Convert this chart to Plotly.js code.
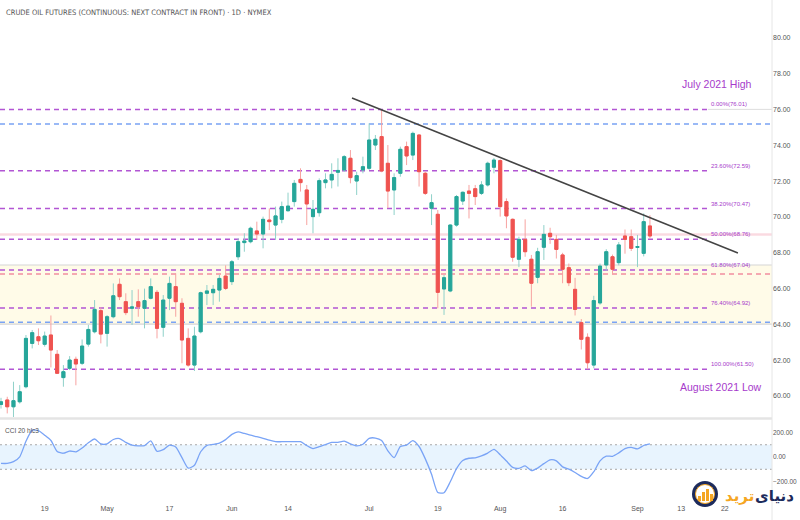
<!DOCTYPE html>
<html>
<head>
<meta charset="utf-8">
<script src="https://cdn.plot.ly/plotly-3.0.1.min.js"></script>
<style>html,body{margin:0;padding:0;background:#fff;}#chart{width:800px;height:520px;}</style>
</head>
<body>
<div id="chart"></div>
<script>
// ---------- DATA ----------
const dates = [
 '2021-04-08','2021-04-09','2021-04-12','2021-04-13','2021-04-14','2021-04-15','2021-04-16','2021-04-19','2021-04-20','2021-04-21','2021-04-22','2021-04-23','2021-04-26','2021-04-27','2021-04-28','2021-04-29','2021-04-30',
 '2021-05-03','2021-05-04','2021-05-05','2021-05-06','2021-05-07','2021-05-10','2021-05-11','2021-05-12','2021-05-13','2021-05-14','2021-05-17','2021-05-18','2021-05-19','2021-05-20','2021-05-21','2021-05-24','2021-05-25','2021-05-26','2021-05-27','2021-05-28',
 '2021-06-01','2021-06-02','2021-06-03','2021-06-04','2021-06-07','2021-06-08','2021-06-09','2021-06-10','2021-06-11','2021-06-14','2021-06-15','2021-06-16','2021-06-17','2021-06-18','2021-06-21','2021-06-22','2021-06-23','2021-06-24','2021-06-25','2021-06-28','2021-06-29','2021-06-30',
 '2021-07-01','2021-07-02','2021-07-06','2021-07-07','2021-07-08','2021-07-09','2021-07-12','2021-07-13','2021-07-14','2021-07-15','2021-07-16','2021-07-19','2021-07-20','2021-07-21','2021-07-22','2021-07-23','2021-07-26','2021-07-27','2021-07-28','2021-07-29','2021-07-30',
 '2021-08-02','2021-08-03','2021-08-04','2021-08-05','2021-08-06','2021-08-09','2021-08-10','2021-08-11','2021-08-12','2021-08-13','2021-08-16','2021-08-17','2021-08-18','2021-08-19','2021-08-20','2021-08-23','2021-08-24','2021-08-25','2021-08-26','2021-08-27','2021-08-30','2021-08-31',
 '2021-09-01','2021-09-02','2021-09-03'
];
const futureDates = ['2021-09-07','2021-09-08','2021-09-09','2021-09-10','2021-09-13','2021-09-14','2021-09-15','2021-09-16','2021-09-17','2021-09-20','2021-09-21','2021-09-22'];

const openP = [59.53,59.78,59.40,59.68,60.52,62.94,63.31,62.89,63.41,62.33,61.03,61.55,62.05,61.83,62.90,63.59,64.77,
 63.50,64.43,66.24,65.27,64.90,65.27,64.90,65.46,65.79,63.84,65.46,66.11,65.18,63.22,61.73,63.59,65.74,65.77,65.92,66.70,
 66.39,67.78,68.57,68.62,69.22,69.05,69.83,69.55,69.87,70.35,70.86,72.10,71.51,70.02,70.24,71.92,72.07,72.50,72.63,73.28,72.01,72.63,
 72.72,74.02,74.49,73.00,71.51,72.44,73.93,73.46,74.58,72.44,70.49,70.15,65.98,65.87,69.55,70.89,71.45,71.58,71.32,71.79,72.78,
 73.15,70.86,69.87,67.64,68.75,67.64,66.63,68.31,69.09,68.75,67.88,67.17,65.96,64.10,63.28,61.73,65.20,67.32,67.78,67.45,68.94,68.90,
 68.30,67.97,69.50];
const highP = [59.90,59.96,60.80,60.61,63.41,63.69,63.78,63.60,64.50,62.57,61.73,62.23,62.20,63.16,63.97,65.36,64.95,
 64.52,66.29,66.57,65.74,65.92,65.96,66.00,66.57,65.92,65.64,66.67,66.85,65.46,63.78,63.87,65.83,66.20,66.20,66.76,67.30,
 67.60,68.81,69.09,69.46,69.74,70.02,70.48,70.58,70.86,71.36,72.07,72.72,71.79,70.95,72.16,72.44,73.00,73.28,73.46,73.74,72.53,73.37,
 75.23,74.58,76.01,74.02,72.44,73.93,74.21,74.77,74.62,72.53,71.27,70.39,66.76,69.59,71.23,71.42,71.79,71.79,72.00,73.09,73.30,
 73.22,71.04,69.92,68.90,69.87,67.88,68.28,69.55,69.40,69.00,68.00,67.40,66.60,64.30,63.50,65.60,67.40,68.20,67.90,68.60,69.30,69.30,
 69.00,70.20,70.10];
const lowP = [59.30,59.03,58.75,59.58,60.43,62.66,62.85,62.76,61.60,61.23,60.52,61.45,60.60,61.73,62.76,63.50,62.94,
 62.76,64.34,65.36,64.52,63.97,64.43,63.78,65.40,63.22,63.31,64.80,64.43,61.83,61.64,61.40,63.50,65.08,65.08,65.27,65.92,
 66.20,67.60,68.06,68.53,68.72,68.25,69.27,68.72,69.65,70.30,70.58,71.42,69.55,69.09,70.02,71.60,71.60,71.70,72.53,71.88,71.23,72.44,
 72.63,73.74,72.50,70.49,70.11,72.25,72.90,73.18,71.70,71.23,69.55,64.90,64.53,65.80,69.46,70.67,69.92,70.67,71.23,71.70,72.44,
 70.02,69.37,67.50,67.20,67.78,64.99,66.30,67.60,68.50,67.68,66.30,66.14,64.50,62.60,61.50,61.55,65.10,67.00,66.80,67.30,67.95,68.10,
 67.20,67.80,68.80];
const closeP = [59.68,59.40,59.74,60.24,63.22,63.54,63.09,63.35,62.57,61.27,61.36,62.01,61.79,62.79,63.72,64.84,63.46,
 64.43,65.60,65.55,64.66,64.98,64.99,65.33,66.11,63.78,65.36,66.29,65.27,63.13,61.73,63.35,65.77,65.87,65.96,66.57,66.01,
 67.50,68.62,68.66,69.37,69.05,69.87,69.74,70.06,70.58,70.61,71.88,71.92,70.73,70.43,72.03,72.07,72.38,72.60,73.37,72.20,72.31,72.81,
 74.30,74.34,72.57,71.45,72.20,73.78,73.41,74.67,72.53,71.32,70.80,65.79,66.61,69.55,71.14,71.38,71.32,71.14,71.79,73.00,73.18,
 70.58,70.06,67.75,68.75,68.06,66.30,68.06,69.03,68.90,68.19,67.08,66.33,64.84,63.17,61.86,65.33,67.26,68.06,67.08,68.44,68.75,68.25,
 68.35,69.74,68.94];

const cci20 = [-52,-52,-38,2,128,219,215,178,135,46,31,49,42,74,116,147,107,107,143,151,120,97,91,93,131,47,60,97,82,-5,-91,-67,43,95,103,114,142,185,205,192,178,166,153,137,125,125,125,125,125,94,69,84,102,119,120,129,107,91,104,152,155,134,50,-5,85,97,133,86,-15,-140,-290,-291,-202,-95,-29,-10,-6,10,32,62,19,-33,-85,-93,-73,-110,-90,-54,-23,-31,-80,-99,-126,-158,-175,-120,-31,7,6,34,68,79,66,94,107];

const tickDates = ['2021-04-19','2021-05-03','2021-05-17','2021-06-01','2021-06-14','2021-07-01','2021-07-19','2021-08-02','2021-08-16','2021-09-01','2021-09-13','2021-09-22'];
const tickLabels = ['19','May','17','Jun','14','Jul','19','Aug','16','Sep','13','22'];
const priceTicks = [60,62,64,66,68,70,72,74,76,78,80];
const cciTicks = [-200,0,200];

const fibPct = ['0.00%','23.60%','38.20%','50.00%','61.80%','76.40%','100.00%'];
const fibPrice = [76.01,72.59,70.47,68.76,67.04,64.92,61.50];
const blueLevels = [75.20,64.12];
const redLevels = [66.82];
const pinkLevels = [69.02];
const zoneLevels = [64.02,67.32];
const trendIdx = [56.25,118.1];
const trendPrice = [76.65,67.99];
const cciBand = [-100,100];

// ---------- BUILD ----------
const allDates = dates.concat(futureDates);
const xi = dates.map((d)=>allDates.indexOf(d));
const tickvals = tickDates.map(d=>allDates.indexOf(d));
const bodyTop = openP.map((o,k)=>Math.max(o,closeP[k]));
const bodyBot = openP.map((o,k)=>Math.min(o,closeP[k]));

const purple = '#b256d4';
const purpleText = '#a63acb';
const fontFam = 'Liberation Sans, Arial, sans-serif';

const traces = [
 {type:'candlestick', x:xi, open:openP, high:highP, low:lowP, close:closeP,
  xaxis:'x', yaxis:'y', whiskerwidth:0,
  increasing:{line:{color:'#8fd1c9',width:1}, fillcolor:'#8fd1c9'},
  decreasing:{line:{color:'#f7a3a1',width:1}, fillcolor:'#f7a3a1'},
  hoverinfo:'skip', showlegend:false},
 {type:'candlestick', x:xi, open:openP, high:bodyTop, low:bodyBot, close:closeP,
  xaxis:'x', yaxis:'y', whiskerwidth:0,
  increasing:{line:{color:'#26a69a',width:1}, fillcolor:'#26a69a'},
  decreasing:{line:{color:'#ef5350',width:1}, fillcolor:'#ef5350'},
  hoverinfo:'skip', showlegend:false},
 {type:'scatter', mode:'lines', x:xi, y:cci20, xaxis:'x', yaxis:'y2',
  line:{color:'#7aa4f6', width:1.3, shape:'spline', smoothing:0.6}, hoverinfo:'skip', showlegend:false}
];

const shapes = [];
shapes.push({type:'rect', xref:'paper', yref:'y', x0:0, x1:1, y0:zoneLevels[0], y1:zoneLevels[1],
  fillcolor:'#fffbe8', line:{width:0}, layer:'below'});
zoneLevels.forEach(v=>shapes.push({type:'line', xref:'paper', yref:'y', x0:0, x1:1, y0:v, y1:v,
  line:{color:'#d6d6d6', width:1.2}, layer:'below'}));
pinkLevels.forEach(v=>shapes.push({type:'line', xref:'paper', yref:'y', x0:0, x1:1, y0:v, y1:v,
  line:{color:'rgba(242,150,170,0.35)', width:2.5}, layer:'below'}));
blueLevels.forEach(v=>shapes.push({type:'line', xref:'paper', yref:'y', x0:0, x1:1, y0:v, y1:v,
  line:{color:'#7aa3f4', width:1.5, dash:'5px,4px'}, layer:'below'}));
redLevels.forEach(v=>shapes.push({type:'line', xref:'paper', yref:'y', x0:0, x1:1, y0:v, y1:v,
  line:{color:'#f28f9f', width:1.5, dash:'5px,4px'}, layer:'below'}));
fibPrice.forEach(v=>shapes.push({type:'line', xref:'paper', yref:'y', x0:0, x1:0.917, y0:v, y1:v,
  line:{color:purple, width:1.5, dash:'5px,4px'}, layer:'below'}));
shapes.push({type:'line', xref:'paper', yref:'y', x0:0.917, x1:1, y0:fibPrice[0], y1:fibPrice[0],
  line:{color:'#dddddd', width:1}, layer:'below'});
shapes.push({type:'line', xref:'x', yref:'y', x0:trendIdx[0], x1:trendIdx[1], y0:trendPrice[0], y1:trendPrice[1],
  line:{color:'#444444', width:1.5}});
shapes.push({type:'rect', xref:'paper', yref:'y2', x0:0, x1:1, y0:cciBand[0], y1:cciBand[1],
  fillcolor:'rgba(33,150,243,0.10)', line:{width:0}, layer:'below'});
cciBand.forEach(v=>shapes.push({type:'line', xref:'paper', yref:'y2', x0:0, x1:1, y0:v, y1:v,
  line:{color:'#a8a8a8', width:1, dash:'2px,3px'}, layer:'below'}));
shapes.push({type:'line', xref:'paper', yref:'paper', x0:0, x1:1, y0:0.168, y1:0.168, line:{color:'#e4e4e4', width:2.5}});
shapes.push({type:'line', xref:'paper', yref:'paper', x0:1, x1:1, y0:-0.04, y1:1, line:{color:'#e6e6e6', width:1}});
// logo icon
shapes.push({type:'circle', xref:'paper', yref:'paper', x0:692/772, x1:718/772, y0:(503-507)/503, y1:(503-481)/503,
  fillcolor:'#1d2b5c', line:{width:0}});
shapes.push({type:'circle', xref:'paper', yref:'paper', x0:695.5/772, x1:714.5/772, y0:(503-503.5)/503, y1:(503-484.5)/503,
  fillcolor:'#ffffff', line:{color:'#f5a623', width:1}});
[[698,701,496],[702,705,492],[706,709,489],[710,713,494]].forEach(b=>shapes.push({type:'rect', xref:'paper', yref:'paper',
  x0:b[0]/772, x1:b[1]/772, y0:(503-501)/503, y1:(503-b[2])/503, fillcolor:'#f5a623', line:{width:0}}));

const annotations = [];
annotations.push({xref:'paper', yref:'paper', x:0.005, y:1, xanchor:'left', yanchor:'top', yshift:-6, showarrow:false,
  text:'CRUDE OIL FUTURES (CONTINUOUS: NEXT CONTRACT IN FRONT) · 1D · NYMEX',
  font:{family:'Liberation Sans Narrow, DejaVu Sans Condensed, Arial Narrow, sans-serif', size:7.5, color:'#555'}});
fibPct.forEach((p,k)=>annotations.push({xref:'paper', yref:'y', x:0.918, y:fibPrice[k], xanchor:'left', yanchor:'middle',
  yshift:5, showarrow:false, text:p+'('+fibPrice[k].toFixed(2)+')', font:{family:fontFam, size:6, color:purpleText}}));
annotations.push({xref:'paper', yref:'paper', x:717/772, y:(503-84)/503, xanchor:'center', yanchor:'middle', showarrow:false,
  text:'July 2021 High', font:{family:fontFam, size:10.5, color:purpleText}});
annotations.push({xref:'paper', yref:'paper', x:721/772, y:(503-387)/503, xanchor:'center', yanchor:'middle', showarrow:false,
  text:'August 2021 Low', font:{family:fontFam, size:10.5, color:purpleText}});
annotations.push({xref:'paper', yref:'paper', x:0.004, y:(503-430)/503, xanchor:'left', yanchor:'middle', showarrow:false,
  text:'CCI 20 hlc3', font:{family:fontFam, size:6.5, color:'#555'}});
annotations.push({xref:'paper', yref:'paper', x:739/772, y:(503-496)/503, xanchor:'center', yanchor:'middle', showarrow:false,
  text:'ترید', font:{family:'DejaVu Sans, sans-serif', size:15, color:'#f5a623', weight:'bold'}});
annotations.push({xref:'paper', yref:'paper', x:774/772, y:(503-496)/503, xanchor:'center', yanchor:'middle', showarrow:false,
  text:'دنیای', font:{family:'DejaVu Sans, sans-serif', size:15, color:'#1d2b5c', weight:'bold'}});

const layout = {
  width:800, height:520, margin:{l:0, r:28, t:0, b:17},
  paper_bgcolor:'#ffffff', plot_bgcolor:'#ffffff', showlegend:false, boxgap:0.3, boxmode:'overlay',
  font:{family:fontFam, color:'#555'},
  xaxis:{range:[-0.16,123.56], anchor:'y2', showgrid:false, zeroline:false, showline:false, ticks:'',
    tickvals:tickvals, ticktext:tickLabels, tickfont:{size:7, color:'#555'}, rangeslider:{visible:false}, fixedrange:true},
  yaxis:{domain:[0.171,1], range:[58.83,82.12], side:'right', anchor:'x', showgrid:false, zeroline:false, ticks:'',
    tickvals:priceTicks, tickformat:'.2f', tickfont:{size:7, color:'#555'}},
  yaxis2:{domain:[0,0.165], range:[-375,302], side:'right', anchor:'x', showgrid:false, zeroline:false, ticks:'',
    tickvals:cciTicks, tickformat:'.2f', tickfont:{size:6.5, color:'#555'}},
  shapes:shapes, annotations:annotations
};

Plotly.newPlot('chart', traces, layout, {staticPlot:true, displayModeBar:false});
</script>
</body>
</html>
